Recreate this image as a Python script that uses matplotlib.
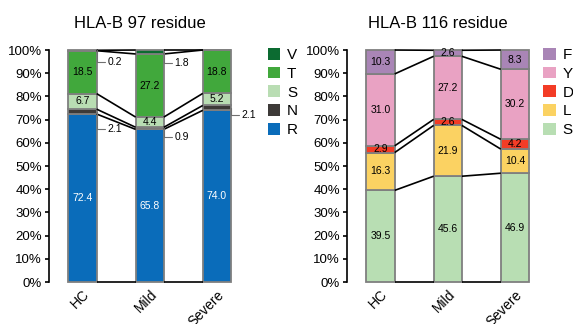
import matplotlib
matplotlib.use("Agg")
import matplotlib.pyplot as plt
from matplotlib.patches import Patch
from matplotlib.ticker import PercentFormatter

plt.rcParams['font.family'] = ['Liberation Sans', 'DejaVu Sans']

groups = ['HC', 'Mild', 'Severe']

# HLA-B position 97 (bottom to top)
b97_names = ['R', 'N', 'S', 'T', 'V']
b97_R = [72.4, 65.8, 74.0]
b97_N = [2.1, 0.9, 2.1]
b97_S = [6.7, 4.4, 5.2]
b97_T = [18.5, 27.2, 18.8]
b97_V = [0.2, 1.8, 0.0]
b97_colors = ['#0a6cba', '#3d3a38', '#b9ddb3', '#41a83c', '#0c6b31']

# HLA-B position 116 (bottom to top)
b116_names = ['S', 'L', 'D', 'Y', 'F']
b116_S = [39.5, 45.6, 46.9]
b116_L = [16.3, 21.9, 10.4]
b116_D = [2.9, 2.6, 4.2]
b116_Y = [31.0, 27.2, 30.2]
b116_F = [10.3, 2.6, 8.3]
b116_colors = ['#b8deb3', '#fbd262', '#f33c26', '#e9a2c3', '#a985b6']

BAR_W = 0.42


def draw_panel(ax, series, names, colors, title, inside_min, text_colors, callouts, legend_x):
    x = list(range(len(groups)))
    bottoms = [0.0] * len(groups)
    tops_per_level = [list(bottoms)]
    for vals, name, col, tc in zip(series, names, colors, text_colors):
        ax.bar(x, vals, BAR_W, bottom=bottoms, color=col, edgecolor='#7f7f7f',
               linewidth=1.3, clip_on=False, zorder=2)
        for i, v in enumerate(vals):
            if v >= inside_min:
                ax.text(x[i], bottoms[i] + v / 2, f"{v:.1f}", ha='center', va='center',
                        fontsize=7.5, color=tc, zorder=4)
        bottoms = [b + v for b, v in zip(bottoms, vals)]
        tops_per_level.append(list(bottoms))

    # connecting lines between neighbouring bars at each boundary
    for level in tops_per_level:
        for i in range(len(groups) - 1):
            ax.plot([x[i] + BAR_W / 2, x[i + 1] - BAR_W / 2], [min(level[i], 100), min(level[i + 1], 100)],
                    color='black', lw=1.2, zorder=3, clip_on=False, solid_capstyle='butt')

    # small values labelled beside the bars
    for gi, si, ty in callouts:
        b = sum(series[k][gi] for k in range(si))
        v = series[si][gi]
        ax.annotate(f"{v:.1f}", xy=(gi + BAR_W / 2, min(b + v / 2, 99.8)),
                    xytext=(gi + BAR_W / 2 + 0.16, ty), fontsize=7.5, va='center',
                    arrowprops=dict(arrowstyle='-', color='#707070', lw=0.8,
                                    shrinkA=0, shrinkB=0,
                                    connectionstyle='angle,angleA=0,angleB=90,rad=0'))

    ax.set_xlim(-0.5, 2.21)
    ax.set_ylim(0, 100)
    ax.set_yticks(range(0, 101, 10))
    ax.yaxis.set_major_formatter(PercentFormatter(decimals=0))
    ax.set_xticks(x)
    ax.set_xticklabels(groups, rotation=45, ha='right', rotation_mode='anchor', fontsize=10)
    ax.tick_params(axis='x', length=0, pad=4)
    ax.tick_params(axis='y', labelsize=9.5, length=3, width=1.2, pad=2, direction='out')
    for s in ['top', 'right', 'bottom']:
        ax.spines[s].set_visible(False)
    ax.spines['left'].set_linewidth(1.2)
    ax.set_title(title, fontsize=12, pad=16)

    handles = [Patch(facecolor=c, edgecolor='none', label=n) for n, c in zip(names, colors)][::-1]
    ax.legend(handles=handles, loc='upper left', bbox_to_anchor=(legend_x, 1.035), frameon=False,
              fontsize=11, handlelength=0.8, handleheight=0.8, handletextpad=0.45,
              labelspacing=0.3, borderaxespad=0)


fig = plt.figure(figsize=(5.73, 3.24), dpi=100)
ax1 = fig.add_axes([0.0855, 0.1296, 0.3176, 0.7160])
ax2 = fig.add_axes([0.6056, 0.1296, 0.3176, 0.7160])

draw_panel(ax1, [b97_R, b97_N, b97_S, b97_T, b97_V], b97_names, b97_colors,
           'HLA-B 97 residue', 3.0, ['white', 'black', 'black', 'black', 'black'],
           [(0, 4, 94.8), (0, 1, 66.0), (1, 4, 94.4), (1, 1, 62.5), (2, 1, 72.0)], 1.17)
draw_panel(ax2, [b116_S, b116_L, b116_D, b116_Y, b116_F], b116_names, b116_colors,
           'HLA-B 116 residue', 2.0, ['black'] * 5, [], 1.045)

fig.savefig('out.png', dpi=100)
